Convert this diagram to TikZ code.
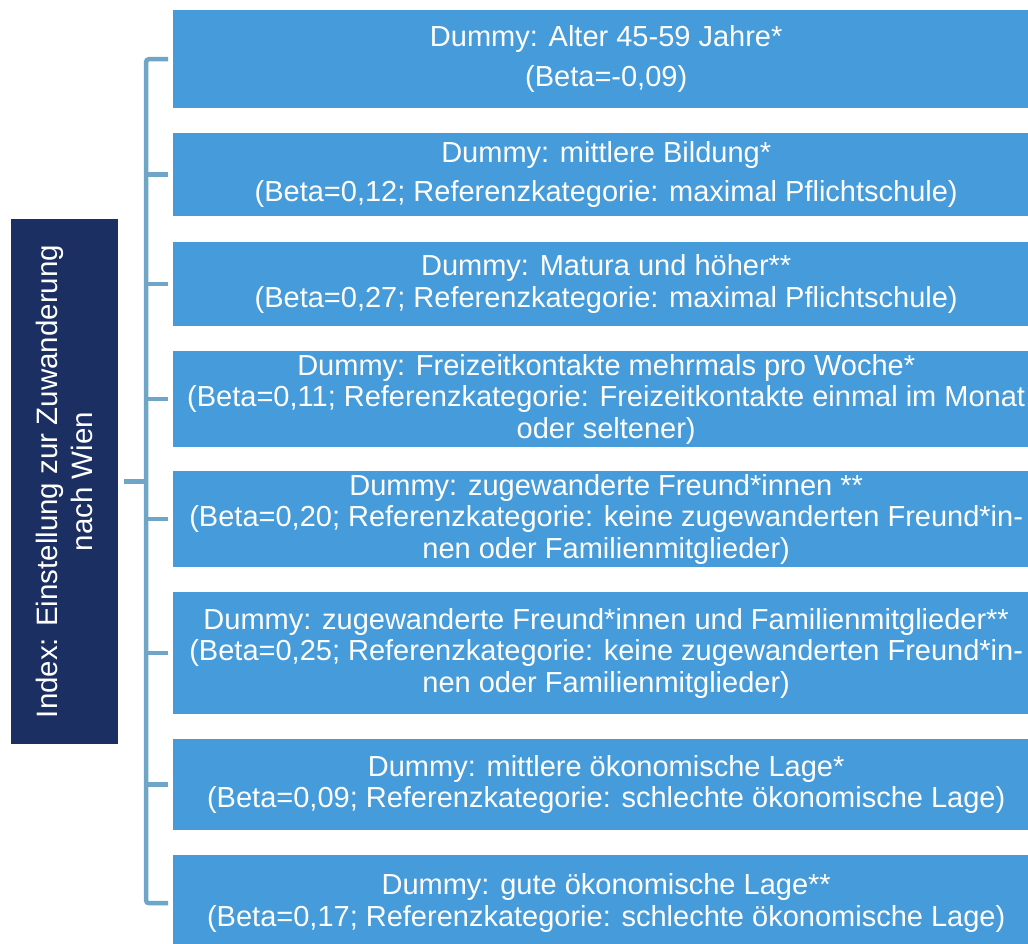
\documentclass[tikz,border=0pt]{standalone}
\usepackage{fontspec}
\setmainfont{Liberation Sans}
\usetikzlibrary{positioning,calc}
\definecolor{IdxNavy}{HTML}{1B2F63}
\definecolor{BoxBlue}{HTML}{469BDB}
\definecolor{BraceBlue}{HTML}{6FA5C7}
\tikzset{
  factor/.style={fill=BoxBlue,minimum width=866pt,anchor=north west,inner sep=0pt},
  factortext/.style={text=white,align=center,font=\fontsize{29}{31.5}\selectfont},
  brace/.style={draw=BraceBlue,line width=4.5pt,rounded corners=3pt}
}
\begin{document}
\begin{tikzpicture}[x=1pt,y=-1pt]
\useasboundingbox (0,0) rectangle (1028,944);
\clip (0,0) rectangle (1028,944);
% index box
\node[fill=IdxNavy,minimum width=107pt,minimum height=524pt,inner sep=0pt] (idx) at (64.5,481.5) {};
\node[rotate=90,text=white,align=center,font=\fontsize{29.5}{35}\selectfont] at (idx.center) {Index: Einstellung zur Zuwanderung\\nach Wien};
% factor boxes
\node[factor,minimum height=98pt] (b1) at (173,10) {};
\node[factor,minimum height=83pt] (b2) at (173,133) {};
\node[factor,minimum height=84pt] (b3) at (173,242) {};
\node[factor,minimum height=96pt] (b4) at (173,351) {};
\node[factor,minimum height=96pt] (b5) at (173,471) {};
\node[factor,minimum height=122pt] (b6) at (173,592) {};
\node[factor,minimum height=91pt] (b7) at (173,739) {};
\node[factor,minimum height=96pt] (b8) at (173,855) {};
\node[factortext] at (b1.center) {Dummy: Alter 45-59 Jahre*\\[8pt](Beta=-0,09)};
\node[factortext] at (b2.center) {Dummy: mittlere Bildung*\\[8pt](Beta=0,12; Referenzkategorie: maximal Pflichtschule)};
\node[factortext] at (b3.center) {Dummy: Matura und höher**\\(Beta=0,27; Referenzkategorie: maximal Pflichtschule)};
\node[factortext] at (b4.center) {Dummy: Freizeitkontakte mehrmals pro Woche*\\(Beta=0,11; Referenzkategorie: Freizeitkontakte einmal im Monat\\oder seltener)};
\node[factortext] at (b5.center) {Dummy: zugewanderte Freund*innen **\\(Beta=0,20; Referenzkategorie: keine zugewanderten Freund*in-\\nen oder Familienmitglieder)};
\node[factortext] at (b6.center) {Dummy: zugewanderte Freund*innen und Familienmitglieder**\\(Beta=0,25; Referenzkategorie: keine zugewanderten Freund*in-\\nen oder Familienmitglieder)};
\node[factortext] at (b7.center) {Dummy: mittlere ökonomische Lage*\\(Beta=0,09; Referenzkategorie: schlechte ökonomische Lage)};
\node[factortext] at (b8.center) {Dummy: gute ökonomische Lage**\\(Beta=0,17; Referenzkategorie: schlechte ökonomische Lage)};
% bracket
\coordinate (spine) at (146,0);
\draw[brace] ([xshift=-5pt]b1.west) -| (spine |- b8.west) -- ([xshift=-5pt]b8.west);
\foreach \i in {2,...,7}
  \draw[brace,rounded corners=0pt] ([xshift=-5pt]b\i.west) -- (spine |- b\i.west);
\draw[brace,rounded corners=0pt] ([xshift=6pt]idx.east) -- (spine |- idx.east);
\end{tikzpicture}
\end{document}
